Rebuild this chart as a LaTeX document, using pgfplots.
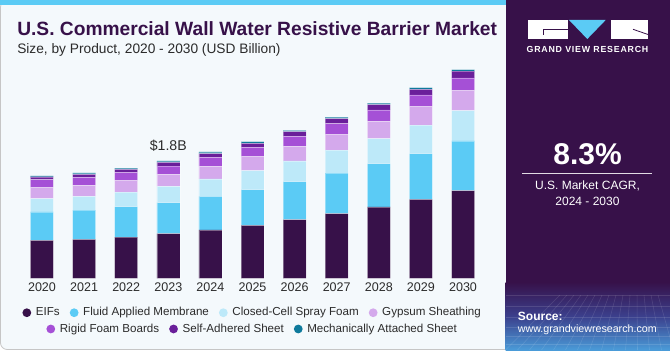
\documentclass[border=0pt]{standalone}
\usepackage{pgfplots}
\pgfplotsset{compat=1.18}
\usepackage{fontspec}
\setmainfont{Liberation Sans}
\newfontfamily\spacedfont[LetterSpace=9]{Liberation Sans}
\definecolor{cEIF}{HTML}{371149}
\definecolor{cFluid}{HTML}{5BCBF5}
\definecolor{cClosed}{HTML}{BDE9F9}
\definecolor{cGyp}{HTML}{D4A9EC}
\definecolor{cRigid}{HTML}{A550D6}
\definecolor{cSelf}{HTML}{6A1F9A}
\definecolor{cMech}{HTML}{0E7A9C}
\definecolor{panel}{HTML}{371149}
\definecolor{bgL}{HTML}{F4F9FC}
\definecolor{txt}{HTML}{2B2B2B}
\definecolor{botblue}{HTML}{4A9BD8}
\definecolor{midblue}{HTML}{3B3F8C}
\pgfplotsset{
  dotlegend/.style={legend image code/.code={\fill[##1,draw=none] (0pt,0pt) circle (3.3pt);}},
  seg/.style={fill=#1, draw=white, draw opacity=0.35, line width=0.4pt, dotlegend},
}
\begin{document}
\begin{tikzpicture}
\begin{scope}[x=0.75pt,y=0.75pt]
\fill[white] (0,0) rectangle (670,350);
\draw[fill=bgL, draw=gray!45, line width=0.6pt, rounded corners=5pt] (0.5,0.5) rectangle (530,349.5);
\fill[cFluid] (0,345) rectangle (506,350);
\fill[panel] (505.5,0) rectangle (670,350);
\shade[top color=panel, bottom color=botblue, middle color=midblue] (505.5,0) rectangle (670,68);
\begin{scope}[white, opacity=0.12, line width=0.4pt]
  \foreach \i in {0,...,14} { \draw (505.5+\i*12,0) -- (560+\i*7,55); }
  \foreach \yy in {6,14,23,33,44,55} { \draw (505.5,\yy) -- (670,\yy); }
\end{scope}
% title
\node[anchor=base west, inner sep=0, text=cEIF, font=\fontsize{14.4}{16}\selectfont\bfseries] at (17,314) {U.S. Commercial Wall Water Resistive Barrier Market};
\node[anchor=base west, inner sep=0, text=txt, font=\fontsize{10.3}{12}\selectfont] at (17,296.5) {Size, by Product, 2020 - 2030 (USD Billion)};
% logo
\fill[white] (527.7,330) rectangle (567.5,311);
\draw[panel, line width=0.6pt] (567.5,320.7) -- (543.3,320.7) -- (543.3,315);
\fill[cFluid] (569,330) -- (605.7,330) -- (587.3,311) -- cycle;
\fill[white] (611,330) rectangle (648,311);
\draw[panel, line width=0.6pt] (633,320.7) -- (648,315.5);
\node[anchor=base, inner sep=0, text=white, font=\fontsize{6.6}{8}\spacedfont\bfseries] at (587.5,297.3) {GRAND VIEW RESEARCH};
% CAGR
\node[anchor=base, inner sep=0, text=white, font=\fontsize{22.5}{26}\selectfont\bfseries] at (587.5,185) {8.3\%};
\draw[white!85!panel, line width=0.75pt] (522,176.7) -- (652,176.7);
\node[anchor=base, inner sep=0, text=white, font=\fontsize{9}{11}\selectfont] at (587.5,160.5) {U.S. Market CAGR,};
\node[anchor=base, inner sep=0, text=white, font=\fontsize{9}{11}\selectfont] at (587.5,145) {2024 - 2030};
\node[anchor=base west, inner sep=0, text=white, font=\fontsize{9}{11}\selectfont\bfseries] at (517.7,30) {Source:};
\node[anchor=base west, inner sep=0, text=white, font=\fontsize{8}{10}\selectfont] at (517.7,17.5) {www.grandviewresearch.com};
\end{scope}
% chart
\begin{axis}[
  at={(6.225pt,53.775pt)}, anchor=south west, scale only axis,
  width=366.3pt, height=161.4pt,
  xmin=-0.8, xmax=10.8, ymin=0, ymax=3.3,
  ybar stacked, bar width=0.546,
  axis line style={draw=none}, tick style={draw=none},
  ytick=\empty, xtick={0,...,10},
  xticklabels={2020,2021,2022,2023,2024,2025,2026,2027,2028,2029,2030},
  xticklabel style={font=\fontsize{9.4}{11}\selectfont, text=txt},
  clip=false,
  legend columns=4,
  legend style={at={(rel axis cs:0.501,-0.16)}, anchor=center, draw=none, fill=none,
    font=\fontsize{8.7}{10}\selectfont, text=txt,
    /tikz/every even column/.append style={column sep=5.5pt},
    /tikz/every odd column/.append style={column sep=1.5pt}},
]
\addplot[seg=cEIF] coordinates {(0,0.583) (1,0.598) (2,0.633) (3,0.684) (4,0.741) (5,0.813) (6,0.899) (7,0.991) (8,1.094) (9,1.212) (10,1.344)};
\addplot[seg=cFluid] coordinates {(0,0.434) (1,0.449) (2,0.465) (3,0.475) (4,0.517) (5,0.546) (6,0.583) (7,0.620) (8,0.664) (9,0.699) (10,0.762)};
\addplot[seg=cClosed] coordinates {(0,0.204) (1,0.210) (2,0.225) (3,0.252) (4,0.265) (5,0.291) (6,0.317) (7,0.353) (8,0.383) (9,0.436) (10,0.465)};
\addplot[seg=cGyp] coordinates {(0,0.169) (1,0.169) (2,0.173) (3,0.184) (4,0.195) (5,0.215) (6,0.225) (7,0.239) (8,0.267) (9,0.285) (10,0.307)};
\addplot[seg=cRigid] coordinates {(0,0.123) (1,0.123) (2,0.129) (3,0.127) (4,0.138) (5,0.144) (6,0.153) (7,0.169) (8,0.173) (9,0.179) (10,0.195)};
\addplot[seg=cSelf] coordinates {(0,0.041) (1,0.046) (2,0.046) (3,0.057) (4,0.055) (5,0.061) (6,0.071) (7,0.077) (8,0.081) (9,0.087) (10,0.103)};
\addplot[seg=cMech] coordinates {(0,0.015) (1,0.020) (2,0.020) (3,0.020) (4,0.026) (5,0.025) (6,0.021) (7,0.021) (8,0.026) (9,0.025) (10,0.025)};
\legend{EIFs, Fluid Applied Membrane, Closed-Cell Spray Foam, Gypsum Sheathing}
\node[anchor=base, inner sep=0, text=txt, font=\fontsize{10.6}{12}\selectfont] at (axis cs:3,1.8) [yshift=8pt] {\$1.8B};
\end{axis}
\begin{axis}[
  at={(6.225pt,53.775pt)}, anchor=south west, scale only axis,
  width=366.3pt, height=161.4pt,
  xmin=0, xmax=1, ymin=0, ymax=1, hide axis,
  legend columns=3,
  legend style={at={(rel axis cs:0.501,-0.2355)}, anchor=center, draw=none, fill=none,
    font=\fontsize{8.7}{10}\selectfont, text=txt,
    /tikz/every even column/.append style={column sep=5.5pt},
    /tikz/every odd column/.append style={column sep=1.5pt}},
]
\addlegendimage{dotlegend, fill=cRigid}
\addlegendimage{dotlegend, fill=cSelf}
\addlegendimage{dotlegend, fill=cMech}
\legend{Rigid Foam Boards, Self-Adhered Sheet, Mechanically Attached Sheet}
\end{axis}
\pgfresetboundingbox
\useasboundingbox (0,0) rectangle (502.5pt,262.5pt);
\end{tikzpicture}
\end{document}
